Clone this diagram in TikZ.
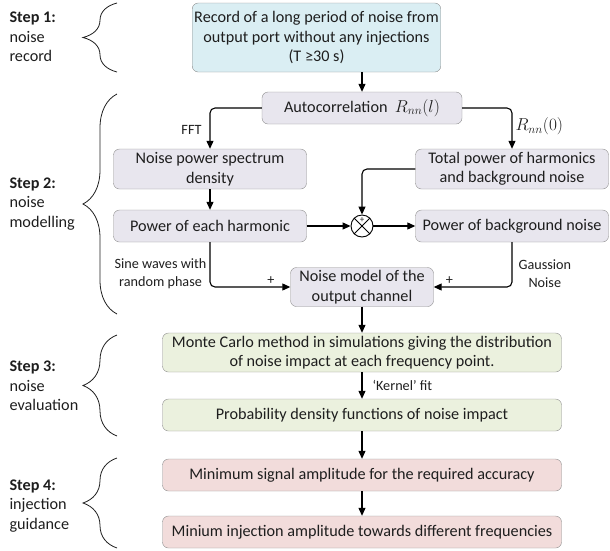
\documentclass[tikz,border=0pt]{standalone}
\usepackage{fontspec}
\setmainfont{Carlito}
\usetikzlibrary{positioning,arrows.meta,decorations.pathreplacing}

\definecolor{recblue}{HTML}{DAEEF3}
\definecolor{modgray}{HTML}{E8E6EE}
\definecolor{evalgreen}{HTML}{EBF1DE}
\definecolor{guidered}{HTML}{F2DCDB}
\definecolor{boxline}{HTML}{8E8E8E}
\definecolor{txtdark}{HTML}{1E1E1E}

\newcommand{\bigmath}[1]{{\fontsize{18}{18}\selectfont$#1$}}

\begin{document}
\begin{tikzpicture}[x=1pt,y=1pt,on grid,font=\fontsize{16.2}{19.5}\selectfont,text=txtdark,
                    box/.style={draw=boxline,rounded corners=6pt,align=center,inner sep=2pt,minimum height=32pt},
                    bluebox/.style={box,fill=recblue,minimum width=213pt,minimum height=69pt},
                    graybox/.style={box,fill=modgray,minimum width=193pt},
                    greenbox/.style={box,fill=evalgreen,minimum width=399pt},
                    redbox/.style={box,fill=guidered,minimum width=399pt},
                    arr/.style={-{Triangle[length=8pt,width=7pt]},line width=1.1pt,rounded corners=5pt},
                    lbl/.style={font=\fontsize{14.2}{17.5}\selectfont,align=center,inner sep=0pt},
                    stepbrace/.style={decorate,decoration={brace,amplitude=34pt},line width=0.8pt,draw=txtdark},
                    steptext/.style={anchor=west,align=left}]
  \useasboundingbox (0,0) rectangle (610,-550);

  \node[bluebox]  (rec)    at (316.5,-37.5)                 {Record of a long period of noise from\\output port without any injections\\(T ≥30 s)};
  \node[graybox,minimum width=200pt] (auto) [below right=70.5pt and 45.5pt of rec] {Autocorrelation~~\bigmath{R_{nn}(l)}};
  \node[graybox,minimum height=40pt] (npsd) [below left=61pt and 152pt of auto]  {Noise power spectrum\\density};
  \node[graybox,minimum height=40pt] (tot)  [below right=61pt and 150pt of auto] {Total power of harmonics\\and background noise};
  \node[graybox]  (harm)   [below=57pt of npsd]             {Power of each harmonic};
  \node[graybox]  (bgn)    [below=57pt of tot]              {Power of background noise};
  \node[circle,draw,line width=0.9pt,minimum size=22pt,inner sep=0pt] (sum) [right=152pt of harm] {};
  \node[graybox,minimum width=143pt,minimum height=39pt] (model) [below=61pt of sum] {Noise model of the\\output channel};
  \node[greenbox,minimum height=39pt] (mc) [below=65.5pt of model] {Monte Carlo method in simulations giving the distribution\\of noise impact at each frequency point.};
  \node[greenbox] (pdf)    [below=62.5pt of mc]             {Probability density functions of noise impact};
  \node[redbox]   (minsig) [below=60pt of pdf]              {Minimum signal amplitude for the required accuracy};
  \node[redbox]   (mininj) [below=57pt of minsig]           {Minium injection amplitude towards different frequencies};

  % junction
  \draw[line width=0.9pt] (sum.north west) -- (sum.south east)
                          (sum.north east) -- (sum.south west);
  \node[font=\fontsize{9}{9}\selectfont,inner sep=0pt] at ([yshift=-5pt]sum.north) {+};

  % connectors
  \draw[arr] (rec.south -| auto.north) -- (auto.north);
  \draw[arr] (auto.west) -| node[pos=0.75,lbl,anchor=east,xshift=-8pt,yshift=-2pt] {FFT} (npsd.north);
  \draw[arr] (auto.east) -| node[pos=0.75,anchor=west,xshift=3pt,yshift=2pt,inner sep=0pt] {\bigmath{R_{nn}(0)}} (tot.north);
  \draw[arr] (npsd) -- (harm);
  \draw[arr] (harm) -- (sum);
  \draw[arr] (tot.west) -| (sum.north);
  \draw[arr] (sum) -- (bgn);
  \draw[arr] (harm.south) |- node[pos=0.35,lbl,anchor=east,xshift=-3pt] {Sine waves with\\random phase}
                             node[pos=0.88,lbl,anchor=south,yshift=2pt] {+} (model.west);
  \draw[arr] (bgn.south) |- node[pos=0.35,lbl,anchor=west,xshift=6pt] {Gaussion\\Noise}
                            node[pos=0.9,lbl,anchor=south,yshift=2pt] {+} (model.east);
  \draw[arr] (model) -- (mc);
  \draw[arr] (mc) -- node[lbl,anchor=west,xshift=10pt] {‘Kernel’ fit} (pdf);
  \draw[arr] (pdf) -- (minsig);
  \draw[arr] (minsig) -- (mininj);

  % steps
  \draw[stepbrace] (117,-72) -- (117,-3);
  \draw[stepbrace] (117,-314) -- (117,-94);
  \draw[stepbrace] (117,-436) -- (117,-335);
  \draw[stepbrace] (117,-548) -- (117,-458);
  \node[steptext] (s1) at (6,-37)  {\textbf{Step 1:}\\noise\\record};
  \node[steptext] (s2) at (6,-204) {\textbf{Step 2:}\\noise\\modelling};
  \node[steptext] (s3) at (6,-386) {\textbf{Step 3:}\\noise\\evaluation};
  \node[steptext] (s4) at (6,-506) {\textbf{Step 4:}\\injection\\guidance};
\end{tikzpicture}
\end{document}
